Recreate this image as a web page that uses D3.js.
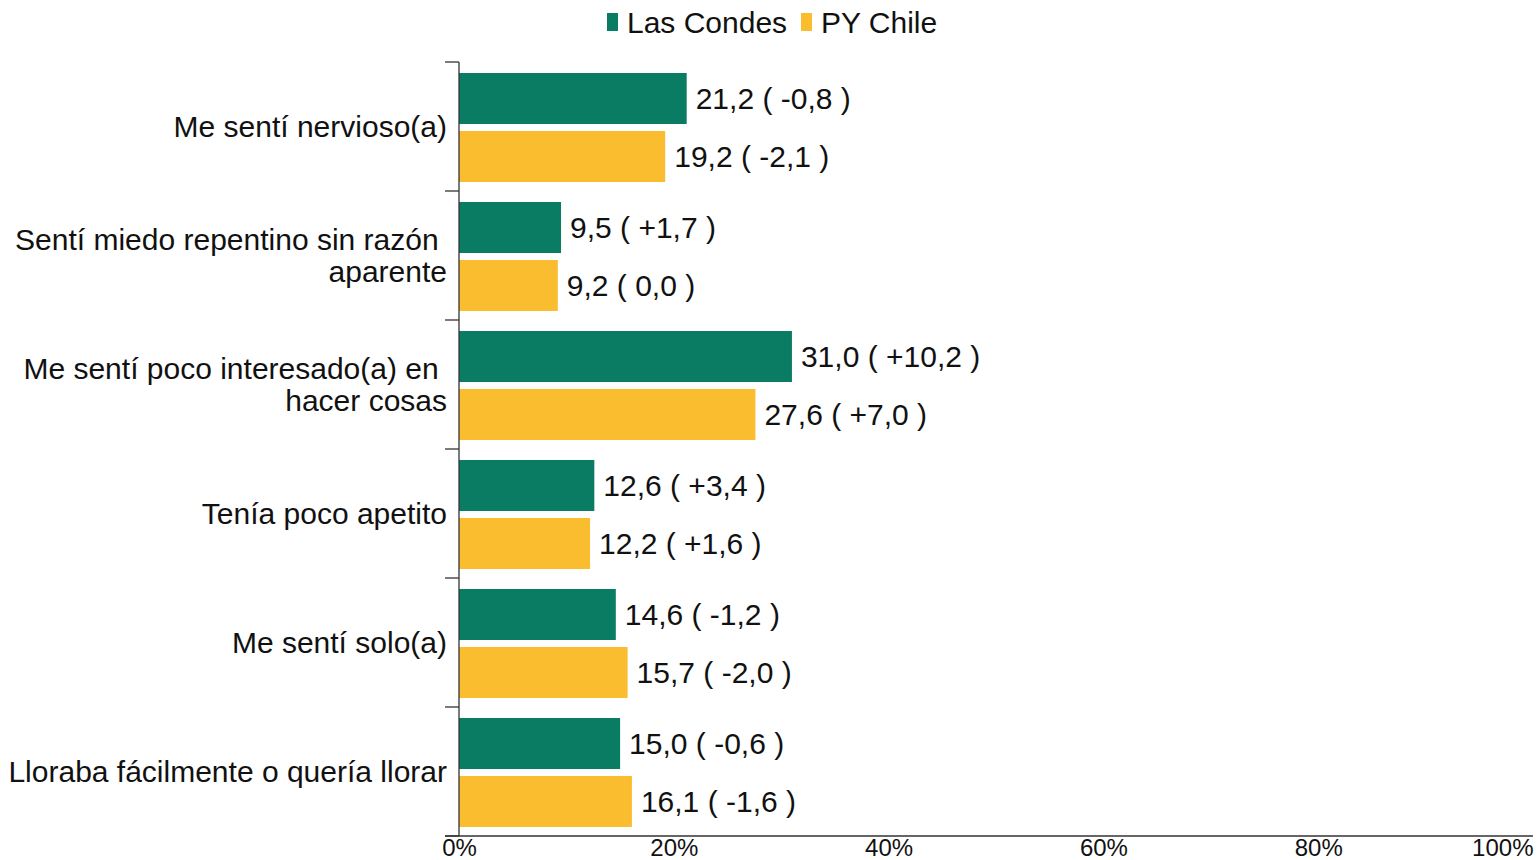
<!DOCTYPE html>
<html>
<head>
<meta charset="utf-8">
<script src="https://cdn.jsdelivr.net/npm/d3@7"></script>
<style>
  body { margin: 0; background: #fff; }
  text { font-family: "Liberation Sans", Arial, sans-serif; fill: #111; }
  .axis path, .axis line { stroke: #333; stroke-width: 1.3; }
</style>
</head>
<body>
<div id="chart"></div>
<script>
var categories = [
  ['Me sentí nervioso(a)'],
  ['Sentí miedo repentino sin razón ', 'aparente'],
  ['Me sentí poco interesado(a) en ', 'hacer cosas'],
  ['Tenía poco apetito'],
  ['Me sentí solo(a)'],
  ['Lloraba fácilmente o quería llorar']
];
var seriesNames = ['Las Condes', 'PY Chile'];
var lasCondes = [21.2, 9.5, 31.0, 12.6, 14.6, 15.0];
var lasCondesDelta = ['-0,8', '+1,7', '+10,2', '+3,4', '-1,2', '-0,6'];
var pyChile = [19.2, 9.2, 27.6, 12.2, 15.7, 16.1];
var pyChileDelta = ['-2,1', '0,0', '+7,0', '+1,6', '-2,0', '-1,6'];
var xTicks = [0, 20, 40, 60, 80, 100];

var colors = ['#0a7c63', '#fbbd30'];
var W = 1537, H = 860;
var margin = { top: 62, right: 4, bottom: 24, left: 459 };
var width = W - margin.left - margin.right;
var height = H - margin.top - margin.bottom;

var svg = d3.select('#chart').append('svg')
  .attr('width', W).attr('height', H);

var g = svg.append('g')
  .attr('transform', 'translate(' + margin.left + ',' + margin.top + ')');

var idx = d3.range(categories.length);

//--- SCALES
var scaleX = d3.scaleLinear().domain([0, 100]).range([0, width]);
var scaleY = d3.scaleBand().domain(idx).range([0, height]);
var scaleSub = d3.scaleBand().domain([0, 1]).range([11, scaleY.bandwidth() - 9]).paddingInner(0.12);

//--- ROWS
var rows = idx.map(function(i) {
  return [
    { s: 0, v: lasCondes[i], d: lasCondesDelta[i] },
    { s: 1, v: pyChile[i], d: pyChileDelta[i] }
  ];
});

var groups = g.selectAll('.cat').data(rows).enter().append('g')
  .attr('transform', function(d, i) { return 'translate(0,' + scaleY(i) + ')'; });

groups.selectAll('rect').data(function(d) { return d; }).enter().append('rect')
  .attr('x', 0)
  .attr('y', function(d) { return scaleSub(d.s); })
  .attr('width', function(d) { return scaleX(d.v); })
  .attr('height', scaleSub.bandwidth())
  .attr('fill', function(d) { return colors[d.s]; });

groups.selectAll('.lbl').data(function(d) { return d; }).enter().append('text')
  .attr('class', 'lbl')
  .attr('x', function(d) { return scaleX(d.v) + 9; })
  .attr('y', function(d) { return scaleSub(d.s) + scaleSub.bandwidth() / 2; })
  .attr('dy', '0.35em')
  .style('font-size', '30px')
  .text(function(d) { return d3.format('.1f')(d.v).replace('.', ',') + ' ( ' + d.d + ' )'; });

//--- Y AXIS (ticks at band edges)
var yAxis = g.append('g').attr('class', 'axis');
yAxis.append('line').attr('x1', 0).attr('x2', 0).attr('y1', 0).attr('y2', height);
yAxis.selectAll('.tk').data(d3.range(categories.length + 1)).enter().append('line')
  .attr('x1', -14).attr('x2', 0)
  .attr('y1', function(d) { return d < categories.length ? scaleY(d) : height; })
  .attr('y2', function(d) { return d < categories.length ? scaleY(d) : height; });

var catLabels = g.selectAll('.cat-label').data(categories).enter().append('text')
  .attr('class', 'cat-label')
  .attr('text-anchor', 'end')
  .style('font-size', '30px')
  .attr('x', -12)
  .attr('y', function(d, i) { return scaleY(i) + scaleY.bandwidth() / 2 - (d.length - 1) * 16; });
catLabels.selectAll('tspan').data(function(d) { return d; }).enter().append('tspan')
  .attr('x', -12)
  .attr('dy', function(d, i) { return i === 0 ? '0.35em' : '32px'; })
  .style('white-space', 'pre')
  .text(function(d) { return d; });

//--- X AXIS
var xAxis = g.append('g').attr('class', 'axis')
  .attr('transform', 'translate(0,' + height + ')')
  .call(d3.axisBottom(scaleX).tickValues(xTicks).tickSize(0).tickPadding(3)
    .tickFormat(function(d) { return d + '%'; }));
xAxis.select('.domain').attr('d', 'M-14,0H' + width);
xAxis.selectAll('text')
  .style('font-size', '24px')
  .style('font-family', '"Liberation Sans", Arial, sans-serif')
  .attr('fill', '#111')
  .attr('text-anchor', function(d) { return d === 100 ? 'end' : 'middle'; });

//--- LEGEND
var legend = svg.append('g').attr('transform', 'translate(607,21)');
var lx = [0, 194];
seriesNames.forEach(function(name, i) {
  legend.append('rect').attr('x', lx[i]).attr('y', -8).attr('width', 11).attr('height', 18)
    .attr('fill', colors[i]);
  legend.append('text').attr('x', lx[i] + 20).attr('y', 1).attr('dy', '0.35em')
    .style('font-size', '30px').text(name);
});
</script>
</body>
</html>
